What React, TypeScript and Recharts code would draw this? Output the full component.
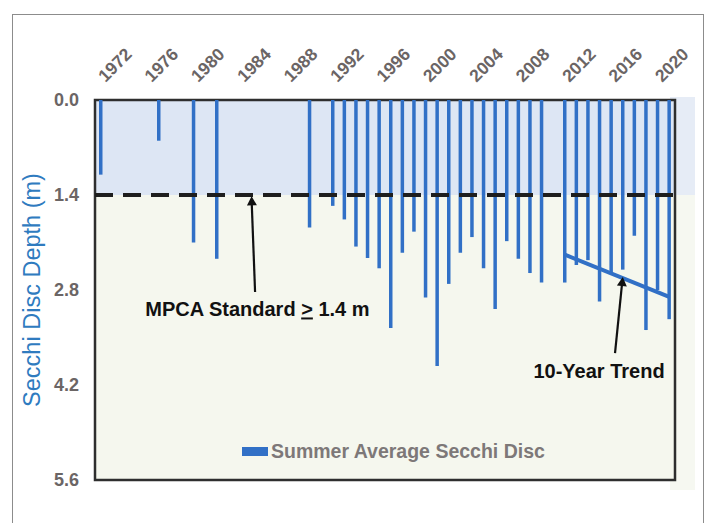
import React from 'react';
import {
  ComposedChart,
  Bar,
  Line,
  XAxis,
  YAxis,
  ReferenceArea,
  ReferenceLine,
  ReferenceDot,
  Legend,
  Label,
} from 'recharts';

// ---- Data ----
const sampleYears = [
  1971, 1976, 1979, 1981, 1989,
  1991, 1992, 1993, 1994, 1995, 1996, 1997, 1998, 1999, 2000,
  2001, 2002, 2003, 2004, 2005, 2006, 2007, 2008, 2009,
  2011, 2012, 2013, 2014, 2015, 2016, 2017, 2018, 2019, 2020,
];
const secchiDepth = [
  1.1, 0.6, 2.1, 2.34, 1.88,
  1.56, 1.76, 2.16, 2.33, 2.48, 3.36, 2.25, 1.94, 2.91, 3.92,
  2.71, 2.25, 2.02, 2.48, 3.08, 2.08, 2.34, 2.55, 2.69,
  2.69, 2.43, 2.36, 2.97, 2.55, 2.5, 2.0, 3.39, 2.8, 3.23,
];
const trendYears = [2011, 2020];
const trendDepth = [2.28, 2.9];
const tickYears = [1972, 1976, 1980, 1984, 1988, 1992, 1996, 2000, 2004, 2008, 2012, 2016, 2020];
const depthTicks = [0, 1.4, 2.8, 4.2, 5.6];
const mpcaStandard = 1.4;
const yearDomain = [1970.5, 2020.5];
const depthDomain = [0, 5.6];

// annotation anchors (in data units)
const mpcaArrow = [{ x: 1984.3, y: 2.83 }, { x: 1984.0, y: 1.47 }];
const mpcaTip = { x: 1984.0, y: 1.42 };
const mpcaText = { x: 1984.5, y: 3.19 };
const trendArrow = [{ x: 2015.33, y: 3.73 }, { x: 2015.95, y: 2.68 }];
const trendTip = { x: 2016.0, y: 2.61 };
const trendText = { x: 2013.95, y: 4.09 };

const seriesName = 'Summer Average Secchi Disc';

const rows = sampleYears.map((year, i) => {
  const ti = trendYears.indexOf(year);
  return { year, depth: secchiDepth[i], trend: ti >= 0 ? trendDepth[ti] : null };
});

const FONT = '"Liberation Sans", Arial, Helvetica, sans-serif';
const BLUE = '#3170c6';
const GRAY = '#6b6565';

const YearTick = (props: any) => {
  const { x, y, payload } = props;
  const tx = x - 7;
  const ty = y;
  return (
    <text
      x={tx}
      y={ty}
      transform={`rotate(-45 ${tx} ${ty})`}
      textAnchor="start"
      fill={GRAY}
      fontSize={17.5}
      fontWeight="bold"
      fontFamily={FONT}
    >
      {payload.value}
    </text>
  );
};

const arrowHead = (angle: number) => (p: any) => (
  <polygon
    points={`${p.cx},${p.cy} ${p.cx - 5},${p.cy + 9} ${p.cx + 5},${p.cy + 9}`}
    transform={`rotate(${angle} ${p.cx} ${p.cy})`}
    fill="#111"
  />
);

const annotationText = (content: React.ReactNode) => (p: any) => (
  <text
    x={p.cx}
    y={p.cy}
    textAnchor="middle"
    fill="#111"
    fontSize={20}
    fontWeight="bold"
    fontFamily={FONT}
  >
    {content}
  </text>
);

const LegendContent = (props: any) => {
  const items = (props.payload || []).filter((it: any) => it.value === seriesName);
  return (
    <div style={{ display: 'flex', alignItems: 'center' }}>
      {items.map((it: any) => (
        <div key={it.value} style={{ display: 'flex', alignItems: 'center' }}>
          <span style={{ display: 'inline-block', width: 26, height: 9, background: BLUE, marginRight: 3 }} />
          <span
            style={{
              fontFamily: FONT,
              fontWeight: 'bold',
              fontSize: 19.5,
              lineHeight: '20px',
              color: '#7d7878',
            }}
          >
            {it.value}
          </span>
        </div>
      ))}
    </div>
  );
};

export default function App() {
  return (
    <div
      style={{
        position: 'absolute',
        left: 0,
        top: 0,
        width: 715,
        height: 523,
        background: '#ffffff',
        overflow: 'hidden',
      }}
    >
      <div
        style={{
          position: 'absolute',
          left: 12,
          top: 14,
          width: 692,
          height: 509,
          borderLeft: '1.5px solid #8c8c8c',
          borderTop: '1.5px solid #8c8c8c',
          borderRight: '1.5px solid #8c8c8c',
          boxSizing: 'border-box',
        }}
      />
      <div style={{ position: 'absolute', left: 670, top: 97, width: 25, height: 98, background: '#e6ecf6' }} />
      <div style={{ position: 'absolute', left: 670, top: 195, width: 25, height: 295, background: '#f6f8f1' }} />
      <div style={{ position: 'absolute', left: 0, top: 0 }}>
        <ComposedChart
          width={715}
          height={523}
          data={rows}
          margin={{ top: 0, right: 40, bottom: 43, left: 0 }}
        >
          <XAxis
            dataKey="year"
            type="number"
            orientation="top"
            domain={yearDomain}
            ticks={tickYears}
            interval={0}
            height={100}
            axisLine={false}
            tickLine={false}
            tickSize={0}
            tickMargin={17}
            tick={<YearTick />}
            allowDataOverflow
          />
          <YAxis
            type="number"
            reversed
            domain={depthDomain}
            ticks={depthTicks}
            interval={0}
            width={95}
            axisLine={false}
            tickLine={false}
            tickSize={0}
            tickMargin={16}
            tickFormatter={(v: number) => v.toFixed(1)}
            tick={{ fill: GRAY, fontSize: 18, fontWeight: 'bold', fontFamily: FONT }}
            allowDataOverflow
          >
            <Label
              content={(p: any) => {
                const vb = p.viewBox || { x: 0, y: 100, width: 95, height: 380 };
                const cx = vb.x + 32;
                const cy = vb.y + vb.height / 2;
                return (
                  <text
                    x={cx}
                    y={cy}
                    transform={`rotate(-90 ${cx} ${cy})`}
                    textAnchor="middle"
                    dominantBaseline="central"
                    fill="#2f7bbf"
                    fontSize={23.5}
                    fontFamily={FONT}
                  >
                    Secchi Disc Depth (m)
                  </text>
                );
              }}
            />
          </YAxis>
          <ReferenceArea y1={depthDomain[0]} y2={mpcaStandard} fill="#dde6f4" fillOpacity={1} stroke="none" />
          <ReferenceArea y1={mpcaStandard} y2={depthDomain[1]} fill="#f5f7ee" fillOpacity={1} stroke="none" />
          <Bar
            dataKey="depth"
            name={seriesName}
            fill={BLUE}
            barSize={3.5}
            isAnimationActive={false}
          />
          <ReferenceLine
            y={mpcaStandard}
            stroke="#1e1e1e"
            strokeWidth={4}
            strokeDasharray="18 10"
          />
          <Line
            dataKey="trend"
            stroke={BLUE}
            strokeWidth={4}
            dot={false}
            activeDot={false}
            connectNulls
            legendType="none"
            isAnimationActive={false}
          />
          <ReferenceArea
            y1={depthDomain[0]}
            y2={depthDomain[1]}
            fill="none"
            stroke="#2e2e2e"
            strokeWidth={2.5}
          />
          <ReferenceLine segment={mpcaArrow} stroke="#111" strokeWidth={2.2} />
          <ReferenceDot x={mpcaTip.x} y={mpcaTip.y} r={0} shape={arrowHead(-2)} />
          <ReferenceDot x={mpcaText.x} y={mpcaText.y} r={0}
            shape={annotationText(
              <>
                MPCA Standard <tspan textDecoration="underline">&gt;</tspan> 1.4 m
              </>
            )}
          />
          <ReferenceLine segment={trendArrow} stroke="#111" strokeWidth={2.2} />
          <ReferenceDot x={trendTip.x} y={trendTip.y} r={0} shape={arrowHead(6)} />
          <ReferenceDot x={trendText.x} y={trendText.y} r={0} shape={annotationText('10-Year Trend')} />
          <Legend
            layout="horizontal"
            verticalAlign="middle"
            align="center"
            content={<LegendContent />}
            wrapperStyle={{ position: 'absolute', left: 242, top: 441, width: 'auto' }}
          />
        </ComposedChart>
      </div>
    </div>
  );
}
